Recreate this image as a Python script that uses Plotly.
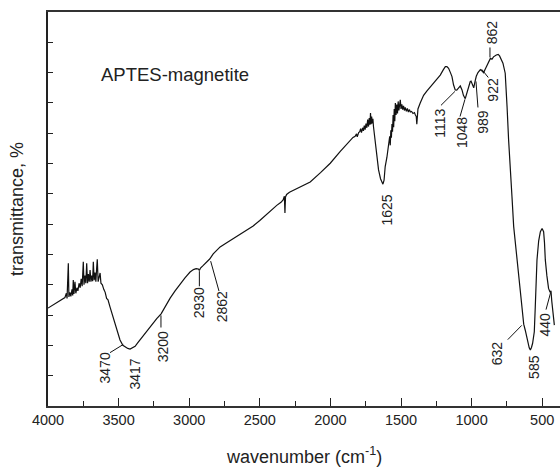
import plotly.graph_objects as go

# ---- data ----
wavenumber = [
    4000, 3960, 3930, 3900, 3880, 3870, 3865, 3856, 3852, 3845, 3838, 3830, 3825, 3821, 3816,
    3809, 3803, 3795, 3788, 3780, 3772, 3765, 3758, 3750, 3745, 3738, 3732, 3726, 3720, 3714,
    3708, 3702, 3696, 3690, 3684, 3679, 3673, 3667, 3661, 3656, 3651, 3645, 3638, 3631, 3625,
    3615, 3605, 3595, 3585, 3575, 3561, 3540, 3525, 3505, 3490, 3470, 3454, 3435, 3419, 3400,
    3383, 3365, 3348, 3320, 3298, 3275, 3256, 3230, 3199, 3170, 3135, 3100, 3064, 3030, 2994,
    2970, 2951, 2935, 2928, 2920, 2902, 2880, 2866, 2855, 2830, 2800, 2781, 2740, 2700, 2639,
    2600, 2547, 2500, 2427, 2380, 2350, 2335, 2326, 2322, 2318, 2310, 2290, 2250, 2214, 2143,
    2070, 2001, 1930, 1860, 1840, 1825, 1815, 1810, 1800, 1792, 1786, 1780, 1772, 1766, 1760,
    1754, 1748, 1742, 1736, 1730, 1725, 1720, 1716, 1712, 1708, 1703, 1699, 1695, 1688, 1680,
    1670, 1659, 1645, 1635, 1628, 1620, 1612, 1600, 1588, 1580, 1576, 1572, 1568, 1564, 1560,
    1556, 1552, 1548, 1544, 1540, 1535, 1530, 1525, 1520, 1515, 1510, 1505, 1500, 1494, 1488,
    1482, 1476, 1470, 1462, 1455, 1448, 1440, 1434, 1425, 1415, 1405, 1398, 1392, 1388, 1386,
    1380, 1364, 1340, 1316, 1290, 1269, 1245, 1222, 1200, 1186, 1175, 1163, 1150, 1139, 1128,
    1116, 1105, 1092, 1080, 1068, 1058, 1045, 1033, 1021, 1010, 1004, 995, 985, 976, 967,
    955, 938, 926, 915, 903, 891, 878, 867, 856, 845, 825, 812, 802, 790, 778,
    762, 755, 749, 738, 726, 714, 702, 690, 678, 665, 655, 643, 636, 631, 620,
    612, 603, 592, 584, 576, 568, 556, 549, 543, 537, 525, 513, 501, 490, 484,
    478, 467, 455, 444, 438, 432, 424, 414,
]
transmittance = [
    3.23, 3.35, 3.45, 3.52, 3.58, 3.72, 3.55, 4.71, 3.60, 3.75, 3.62, 3.85, 3.65, 4.16, 3.70,
    4.10, 3.72, 3.90, 3.80, 4.05, 3.90, 4.20, 3.95, 4.76, 4.00, 4.30, 4.05, 4.71, 4.05, 4.35,
    4.10, 4.49, 4.10, 4.30, 4.12, 4.76, 4.15, 4.40, 4.10, 4.50, 4.84, 4.10, 4.30, 4.39, 4.05,
    4.00, 3.85, 3.75, 3.55, 3.50, 3.27, 2.95, 2.77, 2.45, 2.18, 2.00, 1.95, 1.90, 1.88, 1.92,
    1.97, 2.08, 2.18, 2.38, 2.51, 2.64, 2.74, 2.88, 3.04, 3.28, 3.56, 3.80, 4.03, 4.23, 4.42,
    4.50, 4.53, 4.52, 4.47, 4.55, 4.63, 4.72, 4.79, 4.85, 5.02, 5.17, 5.25, 5.37, 5.49, 5.68,
    5.80, 5.94, 6.12, 6.44, 6.62, 6.72, 6.80, 6.92, 6.37, 6.90, 6.98, 7.05, 7.15, 7.23, 7.39,
    7.70, 8.01, 8.40, 8.78, 8.86, 8.90, 8.98, 8.88, 9.02, 9.05, 9.15, 9.02, 9.18, 9.08, 9.25,
    9.12, 9.32, 9.18, 9.45, 9.22, 9.50, 9.28, 9.67, 9.30, 9.55, 9.32, 9.48, 9.22, 8.90, 8.60,
    8.23, 7.79, 7.50, 7.35, 7.32, 7.45, 7.90, 8.20, 8.56, 8.90, 8.60, 9.10, 8.85, 9.30, 9.05,
    9.60, 9.20, 9.80, 9.40, 10.00, 9.60, 9.95, 9.65, 10.05, 9.75, 10.00, 10.10, 9.80, 9.95, 9.78,
    9.90, 9.75, 9.85, 9.72, 9.82, 9.70, 9.78, 9.70, 9.72, 9.65, 9.68, 9.60, 9.55, 9.30, 9.62,
    9.80, 10.00, 10.25, 10.40, 10.55, 10.65, 10.80, 10.92, 11.10, 11.20, 11.20, 11.14, 11.00, 10.87, 10.60,
    10.43, 10.42, 10.50, 10.56, 10.43, 10.25, 10.14, 10.35, 10.56, 10.70, 10.72, 10.60, 10.50, 10.70, 10.88,
    11.00, 11.10, 11.05, 11.00, 11.12, 11.25, 11.38, 11.47, 11.44, 11.52, 11.58, 11.60, 11.55, 11.45, 11.31,
    10.98, 10.50, 9.88, 8.78, 7.57, 6.90, 5.92, 5.40, 4.82, 4.25, 3.72, 3.40, 2.95, 2.70, 2.50,
    2.30, 2.12, 1.92, 1.85, 1.93, 2.07, 2.45, 3.28, 4.00, 4.82, 5.45, 5.75, 5.86, 5.75, 5.40,
    4.82, 4.30, 3.88, 3.75, 3.80, 3.45, 3.10, 2.67,
]

sample_label = "APTES-magnetite"
x_tick_values = [4000, 3500, 3000, 2500, 2000, 1500, 1000, 500]
x_tick_labels = ["4000", "3500", "3000", "2500", "2000", "1500", "1000", "500"]

# peak labels: text, text position (wavenumber, transmittance), leader line or None
peak_labels = ["862", "922", "989", "1048", "1113", "1625", "3470", "3417",
               "3200", "2930", "2862", "632", "585", "440"]
label_pos = [(856, 12.33), (846, 10.45), (917, 9.39), (1063, 9.03), (1229, 9.32),
             (1606, 6.45), (3596, 1.24), (3384, 1.07), (3188, 1.96), (2928, 3.40),
             (2770, 3.28), (822, 1.73), (563, 1.30), (480, 2.69)]
leaders = [((870, 11.83), (870, 11.50)), ((929, 11.11), (882, 10.84)),
           ((969, 10.71), (955, 9.85)), ((1047, 10.12), (1082, 9.55)),
           ((1118, 10.38), (1217, 9.92)), None,
           ((3467, 2.03), (3561, 1.76)), None,
           ((3200, 2.99), (3200, 2.59)), ((2928, 4.45), (2928, 3.95)),
           ((2848, 4.78), (2789, 3.79)), ((645, 2.66), (744, 2.19)), None,
           ((440, 3.75), (473, 3.18))]

FONT = "Liberation Sans, Arial, sans-serif"
TXT = "#222222"

fig = go.Figure()
fig.add_trace(go.Scatter(x=wavenumber, y=transmittance, mode="lines",
                         line=dict(color="#111111", width=1.2), showlegend=False))

annotations = []
for txt, (lx, ly) in zip(peak_labels, label_pos):
    annotations.append(dict(x=lx, y=ly, xref="x", yref="y", text=txt, showarrow=False,
                            textangle=-90, xanchor="center", yanchor="middle",
                            font=dict(family=FONT, size=14, color=TXT)))

shapes = []
for ld in leaders:
    if ld is None:
        continue
    (x0, y0), (x1, y1) = ld
    shapes.append(dict(type="line", xref="x", yref="y", x0=x0, y0=y0, x1=x1, y1=y1,
                       line=dict(color="#111111", width=1)))

annotations.append(dict(x=3101, y=10.94, xref="x", yref="y", text=sample_label, showarrow=False,
                        xanchor="center", yanchor="middle",
                        font=dict(family=FONT, size=18.5, color=TXT)))
annotations.append(dict(x=0.5, y=0, xref="paper", yref="paper", yshift=-49,
                        text="wavenumber (cm<sup>-1</sup>)", showarrow=False,
                        xanchor="center", yanchor="middle",
                        font=dict(family=FONT, size=18, color=TXT)))
annotations.append(dict(x=0, y=0.5, xref="paper", yref="paper", xshift=-31,
                        text="transmittance, %", showarrow=False, textangle=-90,
                        xanchor="center", yanchor="middle",
                        font=dict(family=FONT, size=18, color=TXT)))

fig.update_layout(
    width=560, height=472,
    margin=dict(l=48, r=0, t=12, b=66, pad=0),
    paper_bgcolor="white", plot_bgcolor="white",
    annotations=annotations, shapes=shapes,
    xaxis=dict(range=[4000, 374], tickvals=x_tick_values, ticktext=x_tick_labels,
               ticks="inside", ticklen=8, tickwidth=1.3, tickcolor="#222",
               minor=dict(dtick=250, tick0=0, ticks="inside", ticklen=5, tickwidth=1.3,
                          tickcolor="#222", showgrid=False),
               showline=True, linecolor="#333", linewidth=1.6, mirror=True,
               showgrid=False, zeroline=False,
               tickfont=dict(family=FONT, size=14.5, color=TXT)),
    yaxis=dict(range=[0, 13], dtick=1, tick0=0, showticklabels=False,
               ticks="inside", ticklen=5, tickwidth=1.3, tickcolor="#222",
               showline=True, linecolor="#222", linewidth=1.6, mirror=False,
               showgrid=False, zeroline=False),
)

fig.write_html("out.html")
